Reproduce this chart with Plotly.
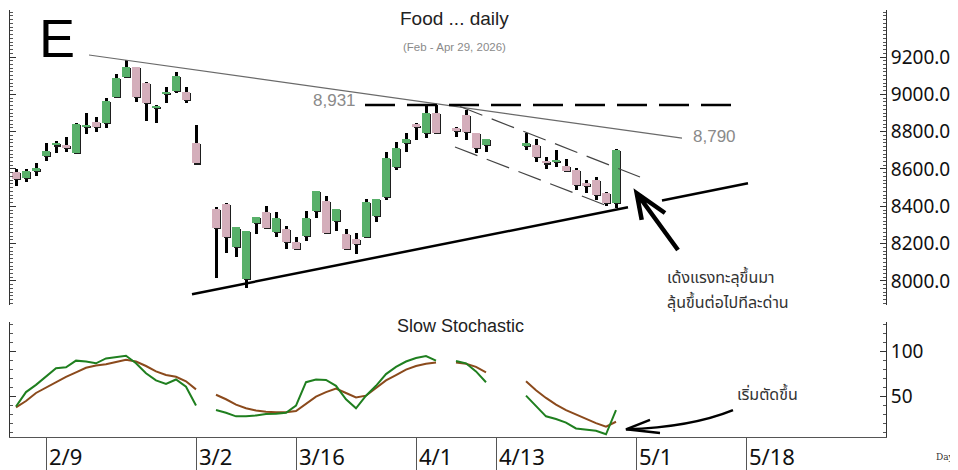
import plotly.graph_objects as go
from datetime import date

# ---------------- data ----------------
dates = ["2026-02-04", "2026-02-05", "2026-02-06", "2026-02-09", "2026-02-10", "2026-02-11",
         "2026-02-12", "2026-02-13", "2026-02-16", "2026-02-17", "2026-02-18", "2026-02-19",
         "2026-02-20", "2026-02-23", "2026-02-24", "2026-02-25", "2026-02-26", "2026-02-27",
         "2026-03-02", "2026-03-04", "2026-03-05", "2026-03-06", "2026-03-09", "2026-03-10",
         "2026-03-11", "2026-03-12", "2026-03-13", "2026-03-16", "2026-03-17", "2026-03-18",
         "2026-03-19", "2026-03-20", "2026-03-23", "2026-03-24", "2026-03-25", "2026-03-26",
         "2026-03-27", "2026-03-30", "2026-03-31", "2026-04-01", "2026-04-02", "2026-04-03",
         "2026-04-07", "2026-04-08", "2026-04-09", "2026-04-10", "2026-04-16", "2026-04-17",
         "2026-04-20", "2026-04-21", "2026-04-22", "2026-04-23", "2026-04-24", "2026-04-27",
         "2026-04-28", "2026-04-29"]

opens = [8585, 8553, 8591, 8670, 8729, 8729, 8684, 8827, 8853, 8845, 8987, 9091,
         9145, 9059, 8928, 9002, 9018, 9014, 8738, 8384, 8411, 8180, 8009, 8312,
         8371, 8264, 8277, 8207, 8241, 8375, 8429, 8323, 8250, 8223, 8234, 8348,
         8448, 8609, 8741, 8839, 8791, 8902, 8818, 8889, 8791, 8729, 8725, 8729,
         8645, 8639, 8616, 8595, 8523, 8541, 8473, 8416]
highs = [8600, 8598, 8630, 8738, 8750, 8773, 8845, 8902, 8880, 8979, 9107, 9184,
         9148, 9068, 8943, 9041, 9121, 9041, 8836, 8398, 8415, 8287, 8270, 8345,
         8402, 8371, 8295, 8237, 8377, 8484, 8457, 8384, 8279, 8259, 8438, 8439,
         8693, 8746, 8791, 8845, 8943, 8943, 8823, 8916, 8791, 8759, 8795, 8759,
         8665, 8702, 8652, 8607, 8541, 8556, 8479, 8705]
lows = [8509, 8532, 8563, 8644, 8684, 8689, 8680, 8788, 8798, 8818, 8983, 9088,
        8961, 8857, 8848, 8952, 9005, 8952, 8627, 8014, 8148, 8130, 7961, 8252,
        8282, 8238, 8170, 8171, 8216, 8336, 8259, 8270, 8170, 8143, 8234, 8318,
        8434, 8595, 8693, 8755, 8764, 8785, 8773, 8755, 8684, 8693, 8702, 8639,
        8600, 8612, 8586, 8488, 8473, 8434, 8402, 8389]
closes = [8545, 8591, 8605, 8696, 8738, 8714, 8841, 8836, 8827, 8966, 9089, 9145,
          8987, 8952, 8939, 9014, 9098, 8970, 8630, 8282, 8237, 8287, 8270, 8341,
          8282, 8339, 8211, 8171, 8339, 8484, 8259, 8384, 8170, 8196, 8425, 8439,
          8661, 8711, 8761, 8827, 8898, 8791, 8805, 8800, 8711, 8759, 8738, 8666,
          8630, 8648, 8589, 8514, 8509, 8461, 8420, 8702]

stoch_k = [39, 55, 63, 72, 81.5, 82.5, 90, 89, 87, 92.5, 94, 95.5,
           87, 76, 68, 64, 69, 61, 40, 35, 32, 28, 28, 29,
           30.5, 31, 32, 40, 66, 69, 68.5, 62, 47, 37, 51, 62,
           75, 83, 89, 93, 95, 90, 89.5, 87, 78, 66, 51, 40,
           28, 25, 21, 14.5, 13, 12, 8, 35]
stoch_d = [38, 45, 54, 60, 66, 72, 77, 82, 84.5, 86, 88.5, 91,
           89, 84, 78, 74, 72, 67, 58, 52, 47, 41, 37, 34.5,
           33, 32.5, 32.5, 34, 42, 50, 55, 59, 54, 49, 51, 60,
           68, 74, 80, 84, 86.5, 88, 88, 86.5, 83, 77, 67, 57,
           48.5, 41, 35, 30, 25, 20.5, 16.5, 22]

tick_dates = ["2026-02-09", "2026-03-02", "2026-03-16", "2026-04-01",
              "2026-04-13", "2026-05-01", "2026-05-18"]
tick_labels = ["2/9", "3/2", "3/16", "4/1", "4/13", "5/1", "5/18"]
price_ticks = [8000, 8200, 8400, 8600, 8800, 9000, 9200]
stoch_ticks = [50, 100]

# drawn lines (trading-day index, price)
resist_x = [9.3, 68.6]
resist_y = [9211, 8765]
top_level_x = [36.9, 74.7]
top_level_y = [8943, 8943]
chan_up_x = [46.4, 64.4]
chan_up_y = [8935, 8557]
chan_lo_x = [45.9, 60.9]
chan_lo_y = [8718, 8407]
support1_x = [19.6, 63.2]
support1_y = [7929, 8395]
support2_x = [66.6, 75.2]
support2_y = [8431, 8523]

# ---------------- helpers ----------------
BASE = date(2026, 2, 2)


def wd(s):
    d = date.fromisoformat(s)
    n = (d - BASE).days
    return (n // 7) * 5 + n % 7


xs = [wd(d) for d in dates]
tick_x = [wd(d) for d in tick_dates]

# the page body adds an 8px offset; the figure fills the rest of the 958x470 window
OFF = 8
W, H = 958 - OFF, 470 - OFF
L, R, T, B = 2, 72, 2, 33
PW, PH = W - L - R, H - T - B


def px(x):
    return (x - OFF - L) / PW


def py(y):
    return (H - B - (y - OFF)) / PH


def with_gaps(xv, yv):
    ox, oy = [], []
    for i, (a, b) in enumerate(zip(xv, yv)):
        if i > 0 and a - xv[i - 1] > 1:
            ox.append(None)
            oy.append(None)
        ox.append(a)
        oy.append(b)
    return ox, oy


GREEN = "#58b06a"
PINK = "#d4aebb"

fig = go.Figure()

# trend lines (scatter layer sits above bars, so draw them first anyway)
line_specs = [
    (resist_x, resist_y, dict(color="#6a6a6a", width=1.2)),
    (top_level_x, top_level_y, dict(color="black", width=2.5, dash="30px,12px")),
    (chan_up_x, chan_up_y, dict(color="#444444", width=1.2, dash="24px,10px")),
    (chan_lo_x, chan_lo_y, dict(color="#444444", width=1.2, dash="24px,10px")),
    (support1_x, support1_y, dict(color="black", width=2.5)),
    (support2_x, support2_y, dict(color="black", width=2.5)),
]
for lx, ly, ls in line_specs:
    fig.add_trace(go.Scatter(x=lx, y=ly, mode="lines", line=ls, hoverinfo="skip",
                             showlegend=False, xaxis="x", yaxis="y"))

# wicks (as thin bars so the bodies cover them)
fig.add_trace(go.Bar(x=xs, y=[h - l for h, l in zip(highs, lows)], base=lows,
                     width=0.3, offset=-0.1,
                     marker=dict(color="black", line=dict(width=0)),
                     hoverinfo="skip", showlegend=False, xaxis="x", yaxis="y"))

base = [min(o, c) for o, c in zip(opens, closes)]
hgt = [max(abs(c - o), 9) for o, c in zip(opens, closes)]
cols = [GREEN if c >= o else PINK for o, c in zip(opens, closes)]

# body shadow
fig.add_trace(go.Bar(x=xs, y=hgt, base=[b - 6 for b in base], width=0.75, offset=-0.25,
                     marker=dict(color="#1e1e1e", line=dict(width=0)),
                     hoverinfo="skip", showlegend=False, xaxis="x", yaxis="y"))
# bodies
fig.add_trace(go.Bar(x=xs, y=hgt, base=base, width=0.75, offset=-0.4,
                     marker=dict(color=cols, line=dict(width=0)),
                     showlegend=False, xaxis="x", yaxis="y"))

# stochastic
dx, dy = with_gaps(xs, stoch_d)
kx, ky = with_gaps(xs, stoch_k)
fig.add_trace(go.Scatter(x=dx, y=dy, mode="lines", line=dict(color="#8b4a1c", width=2),
                         showlegend=False, xaxis="x2", yaxis="y2", connectgaps=False))
fig.add_trace(go.Scatter(x=kx, y=ky, mode="lines", line=dict(color="#1f7f1f", width=2),
                         showlegend=False, xaxis="x2", yaxis="y2", connectgaps=False))

XR = [1.4, 89.0]
TICKF = dict(family="Noto Sans, Open Sans, DejaVu Sans", size=19, color="#111111")

fig.update_layout(
    width=W, height=H,
    margin=dict(l=L, r=R, t=T, b=B),
    paper_bgcolor="white", plot_bgcolor="white",
    barmode="overlay", bargap=0,
    showlegend=False,
    xaxis=dict(domain=[0, 1], range=XR, anchor="y", showticklabels=False, ticks="",
               showline=False, showgrid=False, zeroline=False),
    yaxis=dict(domain=[py(305), 1], range=[7871, 9452], side="right", anchor="x",
               tickvals=price_ticks, tickformat=".1f", ticks="inside", ticklen=6,
               tickcolor="#333", showline=True, linecolor="#333", linewidth=1,
               mirror="ticks", showgrid=False, zeroline=False, tickfont=TICKF,
               automargin=False,
               minor=dict(dtick=20, ticks="inside", ticklen=3, tickcolor="#555",
                          showgrid=False)),
    xaxis2=dict(domain=[0, 1], range=XR, anchor="y2", tickvals=tick_x, ticktext=[""] * len(tick_x),
                ticks="outside", ticklen=33, tickcolor="#555", tickwidth=1,
                showline=True, linecolor="#555", linewidth=1, automargin=False,
                showgrid=False, zeroline=False),
    yaxis2=dict(domain=[0, py(322)], range=[5, 133], side="right", anchor="x2",
                tickvals=stoch_ticks, ticks="inside", ticklen=6, tickcolor="#333",
                showline=True, linecolor="#333", linewidth=1, mirror="ticks",
                showgrid=False, zeroline=False, tickfont=TICKF, automargin=False,
                minor=dict(dtick=10, ticks="inside", ticklen=3, tickcolor="#555",
                           showgrid=False)),
)

ann = []
for tx, tl in zip(tick_x, tick_labels):
    ann.append(dict(x=tx, y=py(456), xref="x2", yref="paper", text=tl, showarrow=False,
                    xanchor="left", yanchor="middle", xshift=1,
                    font=dict(family="Noto Sans, Open Sans, DejaVu Sans", size=22, color="#111")))

ann += [
    dict(x=px(57), y=py(38), text="E", font=dict(family="Liberation Sans, Arial", size=54, color="black")),
    dict(x=px(455), y=py(18), text="Food ... daily", font=dict(family="Liberation Sans, Arial", size=19, color="#222")),
    dict(x=px(455), y=py(47), text="(Feb - Apr 29, 2026)", font=dict(family="Liberation Sans, Arial", size=11.5, color="#8a8a8a")),
    dict(x=px(334), y=py(100), text="8,931", font=dict(family="Liberation Sans, Arial", size=17, color="#8a8a8a")),
    dict(x=px(714), y=py(136), text="8,790", font=dict(family="Liberation Sans, Arial", size=17, color="#8a8a8a")),
    dict(x=px(460), y=py(326), text="Slow Stochastic", font=dict(family="Liberation Sans, Arial", size=18, color="#222")),
    dict(x=px(665), y=py(278), text="เด้งแรงทะลุขึ้นมา", xanchor="left",
         font=dict(family="Noto Sans Thai, Noto Sans, DejaVu Sans", size=16, color="#333")),
    dict(x=px(665), y=py(303), text="ลุ้นขึ้นต่อไปทีละด่าน", xanchor="left",
         font=dict(family="Noto Sans Thai, Noto Sans, DejaVu Sans", size=16, color="#333")),
    dict(x=px(735), y=py(395), text="เริ่มตัดขึ้น", xanchor="left",
         font=dict(family="Noto Sans Thai, Noto Sans, DejaVu Sans", size=16, color="#333")),
    dict(x=px(957), y=py(457), text="Day", xanchor="right",
         font=dict(family="DejaVu Serif, Liberation Serif", size=9, color="#333")),
]
for a in ann:
    a.setdefault("xref", "paper")
    a.setdefault("yref", "paper")
    a.setdefault("showarrow", False)
    a.setdefault("xanchor", "center")
    a.setdefault("yanchor", "middle")
fig.update_layout(annotations=ann)

# arrows (drawn decorations)
fig.add_shape(type="path", xref="x", yref="y",
              path="M 68.2,8166 L 64.07,8470 M 64.57,8327 L 64.07,8470 L 66.9,8364",
              line=dict(color="black", width=4.5))
fig.add_shape(type="path", xref="x2", yref="y2",
              path="M 73.7,35 Q 69.5,16 63.0,13.5",
              line=dict(color="black", width=2.5))
fig.add_shape(type="path", xref="x2", yref="y2",
              path="M 65.4,24 L 63.0,13.5 L 66.4,9.5",
              line=dict(color="black", width=2.5))

fig.write_html("out.html")
